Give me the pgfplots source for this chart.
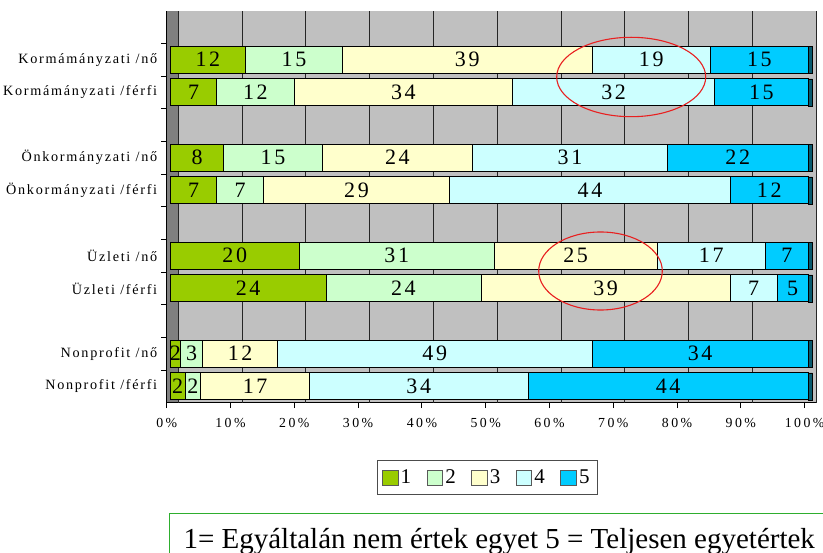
\documentclass[border=0pt]{standalone}
\usepackage{fontspec}
\setmainfont{Liberation Serif}
\newfontfamily\spfont[LetterSpace=12]{Liberation Serif}
\newfontfamily\tkfont[LetterSpace=18]{Liberation Serif}
\usepackage{pgfplots}
\pgfplotsset{compat=1.18}
\usepackage{pgfplotstable}
\definecolor{c1}{HTML}{99CC00}
\definecolor{c2}{HTML}{CCFFCC}
\definecolor{c3}{HTML}{FFFFCC}
\definecolor{c4}{HTML}{CCFFFF}
\definecolor{c5}{HTML}{00CCFF}
\definecolor{wallgray}{HTML}{C0C0C0}
\definecolor{sidegray}{HTML}{808080}
\definecolor{endcap}{HTML}{0A5A6E}
\definecolor{boxgreen}{HTML}{2EAE2E}
\definecolor{ellred}{HTML}{E82020}
\newcommand{\lgf}{\fontsize{21}{24}\selectfont}

% segment widths (percent of bar), y = row position (top row = 10)
\pgfplotstableread{
y s1 s2 s3 s4 s5 cap
10 11.8 15.2 39.1 18.6 15.3 0.7
9 7.3 12.1 34.3 31.6 14.7 0.7
7 8.4 15.4 23.6 30.5 22.1 0.7
6 7.3 7.3 29.2 44.0 12.2 0.7
4 20.2 30.6 25.5 17.0 6.7 0.7
3 24.4 24.3 39.1 7.3 4.9 0.7
1 1.6 3.5 11.7 49.3 33.9 0.7
0 2.3 2.5 17.0 34.3 43.9 0.7
}\bars

% label positions (segment centres) and printed values
\pgfplotstableread{
x y lbl
5.9 10 12
19.4 10 15
46.55 10 39
75.4 10 19
92.35 10 15
3.65 9 7
13.35 9 12
36.55 9 34
69.5 9 32
92.65 9 15
4.2 7 8
16.1 7 15
35.6 7 24
62.65 7 31
88.95 7 22
3.65 6 7
10.95 6 7
29.2 6 29
65.8 6 44
93.9 6 12
10.1 4 20
35.5 4 31
63.55 4 25
84.8 4 17
96.65 4 7
12.2 3 24
36.55 3 24
68.25 3 39
91.45 3 7
97.55 3 5
0.8 1 2
3.35 1 3
10.95 1 12
41.45 1 49
83.05 1 34
1.15 0 2
3.55 0 2
13.3 0 17
38.95 0 34
78.05 0 44
}\labels

\pgfplotsset{
  commonaxis/.style={
    at={(166.7pt,-402.7pt)}, anchor=south west,
    scale only axis, width=649.5pt, height=392pt,
    xmin=-0.56, xmax=101.25, ymin=-0.5, ymax=11.5,
  }
}

\begin{document}
\begin{tikzpicture}
\useasboundingbox (0pt,0pt) rectangle (823pt,-553pt);
% back wall and left side wall
\fill[wallgray] (166.7pt,-402.7pt) rectangle (816pt,-10.7pt);
\fill[sidegray] (166.7pt,-402.7pt) rectangle (177.6pt,-10.7pt);
\begin{axis}[
  commonaxis,
  xbar stacked, bar width=27pt,
  axis x line*=bottom, axis y line*=left,
  axis line style={black, line width=0.8pt},
  tick align=outside,
  tick style={black, line width=0.8pt},
  major tick length=5.5pt,
  xtick={-0.56,9.44,19.44,29.44,39.44,49.44,59.44,69.44,79.44,89.44,99.44},
  xticklabels={0\%,10\%,20\%,30\%,40\%,50\%,60\%,70\%,80\%,90\%,100\%},
  xticklabel style={font=\tkfont\fontsize{13.8}{15}\selectfont, text=black, yshift=-7pt},
  extra x ticks={1.25,11.25,21.25,31.25,41.25,51.25,61.25,71.25,81.25,91.25,101.25},
  extra x tick labels={,,,,,,,,,,},
  extra x tick style={grid=major, major tick length=0pt,
     major grid style={black!85, line width=0.8pt}},
  ytick={0.5,1.5,2.5,3.5,4.5,5.5,6.5,7.5,8.5,9.5,10.5},
  yticklabels={,,,,,,,,,,},
  extra y ticks={10,9,7,6,4,3,1,0},
  extra y tick labels={Kormámányzati /nő,Kormámányzati /férfi,Önkormányzati /nő,Önkormányzati /férfi,Üzleti /nő,Üzleti /férfi,Nonprofit /nő,Nonprofit /férfi},
  extra y tick style={major tick length=0pt,
     yticklabel style={font=\spfont\fontsize{14.2}{16}\selectfont, text=black, xshift=-6pt}},
  legend columns=5,
  legend style={at={(0.3233,-0.1462)}, anchor=north west,
     draw=black!70, line width=0.8pt, fill=white,
     inner xsep=5pt, inner ysep=7pt,
     nodes={inner sep=2.5pt},
     /tikz/every even column/.append style={column sep=13pt}},
  legend image code/.code={\draw[#1, draw=black!65, line width=0.6pt] (0pt,-7.5pt) rectangle (15.5pt,7.5pt);},
]
\addplot[fill=c1, draw=black, line width=0.8pt] table[x=s1, y=y] {\bars};
\addlegendentry{\lgf 1}
\addplot[fill=c2, draw=black, line width=0.8pt] table[x=s2, y=y] {\bars};
\addlegendentry{\lgf 2}
\addplot[fill=c3, draw=black, line width=0.8pt] table[x=s3, y=y] {\bars};
\addlegendentry{\lgf 3}
\addplot[fill=c4, draw=black, line width=0.8pt] table[x=s4, y=y] {\bars};
\addlegendentry{\lgf 4}
\addplot[fill=c5, draw=black, line width=0.8pt] table[x=s5, y=y] {\bars};
\addlegendentry{\lgf 5}
\addplot[fill=endcap, draw=black, line width=0.5pt, forget plot] table[x=cap, y=y] {\bars};
\end{axis}
\begin{axis}[
  commonaxis,
  hide axis,
]
\addplot[draw=none, mark=none,
  nodes near coords, point meta=explicit symbolic,
  nodes near coords style={anchor=center, inner sep=0pt,
     font=\spfont\fontsize{22}{24}\selectfont, text=black}]
  table[x=x, y=y, meta=lbl] {\labels};
\end{axis}
\draw[ellred, line width=1.1pt] (631.2pt,-77pt) ellipse [x radius=74.5pt, y radius=39.7pt];
\draw[ellred, line width=1.1pt] (600.5pt,-271pt) ellipse [x radius=61.8pt, y radius=39pt];
\draw[boxgreen, line width=1.3pt] (169.3pt,-513.3pt) rectangle (900pt,-600pt);
\node[anchor=base west, inner sep=0pt, font=\fontsize{29}{32}\selectfont] at (183.3pt,-548.3pt)
  {1= Egyáltalán nem értek egyet 5 = Teljesen egyetértek};
\end{tikzpicture}
\end{document}
